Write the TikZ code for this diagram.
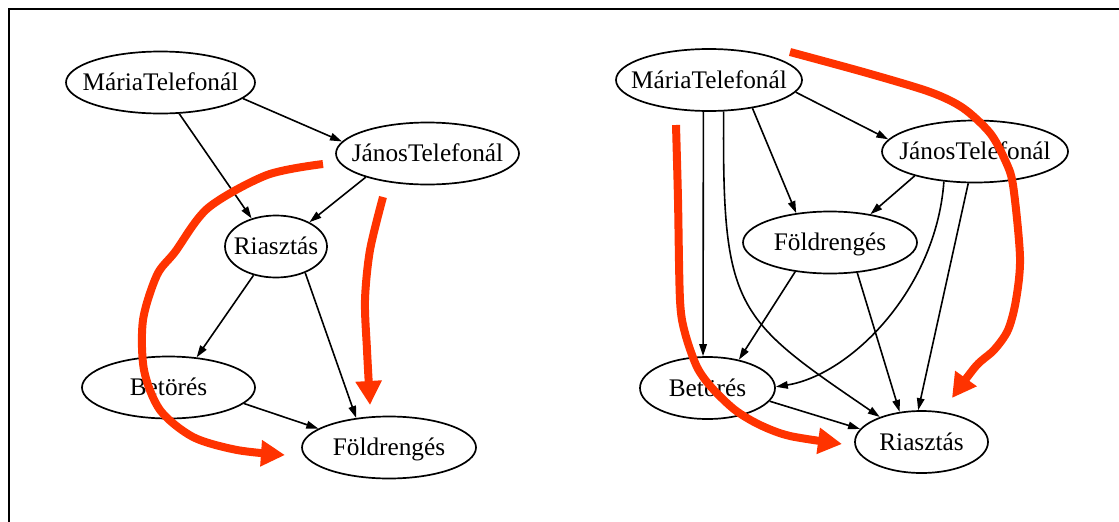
\documentclass[tikz,border=0pt]{standalone}
\usepackage{fontspec}
\setmainfont{Liberation Serif}
\usetikzlibrary{shapes.geometric,arrows.meta}
\definecolor{hlred}{RGB}{255,51,0}
% label box of zero width, so the ellipse keeps its given size
\newcommand\lbl[1]{\makebox[0pt]{#1}}
\begin{document}
\begin{tikzpicture}[x=1pt,y=-1pt,
  bn/.style={ellipse, draw, line width=1.7pt, inner sep=0pt,
    minimum height=62pt, text height=16.4pt, text depth=0pt,
    font=\fontsize{25.3}{30}\selectfont},
  dep/.style={line width=1.6pt, -{Triangle[length=12pt,width=7.5pt]}},
  note/.style={draw=hlred, line width=8pt, line join=round,
    -{Triangle[length=24pt,width=25pt]}}
]
\useasboundingbox (0,0) rectangle (1119,522);
\draw[line width=2pt] (8.5,522) -- (8.5,8.5) -- (1119,8.5);

% ---- left network ----
\node[bn, minimum width=189pt] (LM) at (160.5,82.5) {\lbl{MáriaTelefonál}};
\node[bn, minimum width=183pt] (LJ) at (427.5,153.5) {\lbl{JánosTelefonál}};
\node[bn, minimum width=102pt] (LR) at (276,246.5) {\lbl{Riasztás}};
\node[bn, minimum width=173pt] (LB) at (168.5,387.5) {\lbl{Betörés}};
\node[bn, minimum width=174pt] (LF) at (389,447.5) {\lbl{Földrengés}};

\draw[dep] (LM.-11) -- (LJ.172);
\draw[dep] (LM.-59) -- (LR.131);
\draw[dep] (LJ.201) -- (LR.36);
\draw[dep] (LR.-128) -- (LB.47);
\draw[dep] (LR.-42) -- (LF.138);
\draw[dep] (LB.-12) -- (LF.165);

% ---- right network ----
\node[bn, minimum width=186pt] (RM) at (709,80) {\lbl{MáriaTelefonál}};
\node[bn, minimum width=186pt] (RJ) at (975,151.5) {\lbl{JánosTelefonál}};
\node[bn, minimum width=174pt] (RF) at (830,242.5) {\lbl{Földrengés}};
\node[bn, minimum width=135pt] (RB) at (707.5,388) {\lbl{Betörés}};
\node[bn, minimum width=133pt] (RR) at (921.5,442) {\lbl{Riasztás}};

\draw[dep] (RM.-8) -- (RJ.172);
\draw[dep] (RM.-33) -- (RF.139);
\draw[dep] (RM.-100) -- (RB.98);
\draw[dep] (RM.-65) .. controls (722,310) and (735,318) .. (RR.149);
\draw[dep] (RJ.-158) -- (RF.35);
\draw[dep] (RJ.-136) .. controls (936,290) and (850,375) .. (RB.1);
\draw[dep] (RJ.-102) -- (RR.96);
\draw[dep] (RF.-140) -- (RB.42);
\draw[dep] (RF.-48) -- (RR.126);
\draw[dep] (RB.-12) -- (RR.168);

% ---- hand-drawn ordering arrows ----
\draw[note] plot[smooth, tension=0.5] coordinates {(323,164) (267,175) (208,208)
  (175,252) (157,275) (143,320) (144,370) (160,410) (193,437) (237,450) (285,455)};
\draw[note] plot[smooth, tension=0.5] coordinates {(383,197) (370,250) (365,300)
  (367,350) (370,405)};
\draw[note] plot[smooth, tension=0.5] coordinates {(676,125) (678,200) (680,300)
  (685,333) (697,367) (712,388) (735,410) (760,425) (790,436) (842,444)};
\draw[note] plot[smooth, tension=0.5] coordinates {(790,52) (867,73) (930,92)
  (963,108) (990,133) (1005,160) (1013,185) (1020,257) (1016,300) (1008,330)
  (994,350) (976,366) (952,398)};
\end{tikzpicture}
\end{document}
